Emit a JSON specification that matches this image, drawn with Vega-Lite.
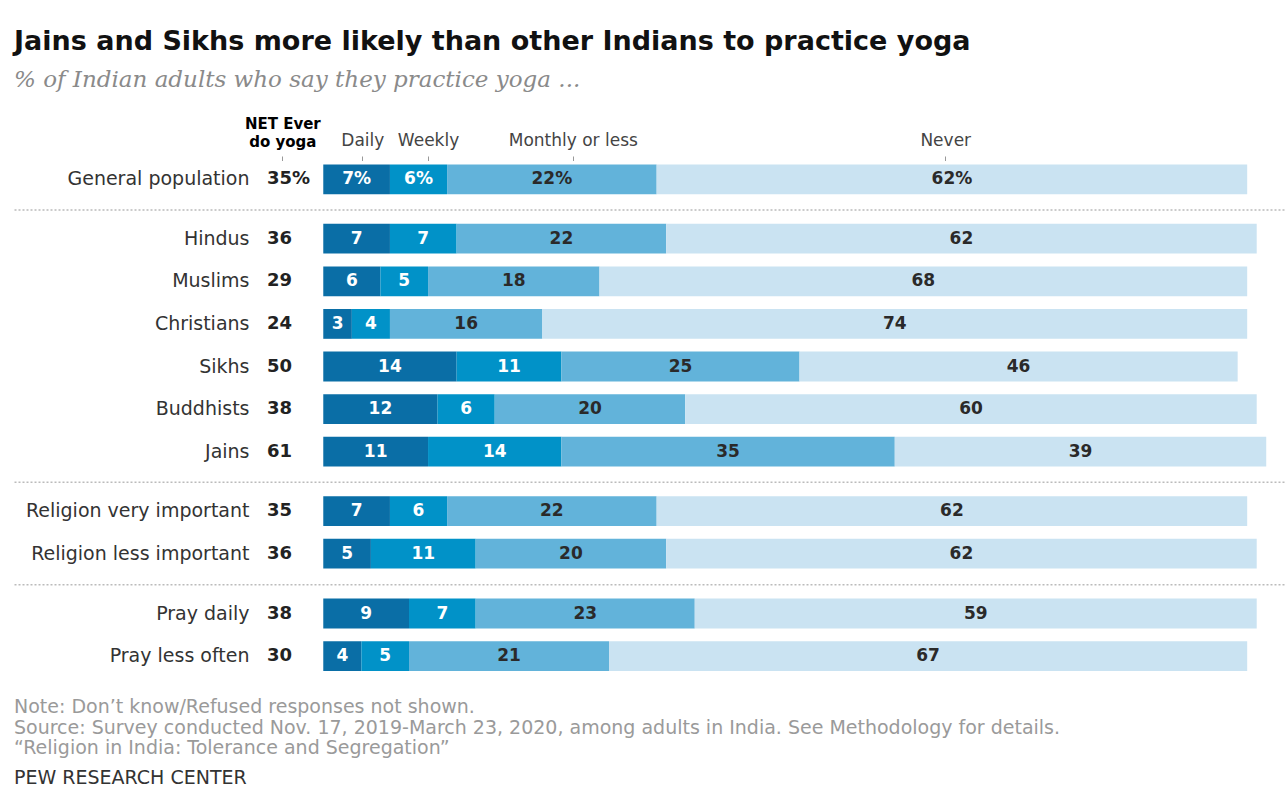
{
  "$schema": "https://vega.github.io/schema/vega-lite/v6.json",
  "background": "white",
  "padding": {"left": 14, "right": 0, "top": 28, "bottom": 0},
  "title": {
    "text": "Jains and Sikhs more likely than other Indians to practice yoga",
    "subtitle": "% of Indian adults who say they practice yoga ...",
    "anchor": "start",
    "font": "DejaVu Sans",
    "fontSize": 27,
    "fontWeight": "bold",
    "color": "#111111",
    "subtitleFont": "DejaVu Serif",
    "subtitleFontStyle": "italic",
    "subtitleFontSize": 23,
    "subtitleColor": "#8a8a8a",
    "subtitlePadding": 13,
    "offset": 20
  },
  "data": {
    "values": [
      {"g": 1, "row": "General population", "net": 35, "Daily": 7, "Weekly": 6, "Monthly or less": 22, "Never": 62},
      {"g": 2, "row": "Hindus", "net": 36, "Daily": 7, "Weekly": 7, "Monthly or less": 22, "Never": 62},
      {"g": 2, "row": "Muslims", "net": 29, "Daily": 6, "Weekly": 5, "Monthly or less": 18, "Never": 68},
      {"g": 2, "row": "Christians", "net": 24, "Daily": 3, "Weekly": 4, "Monthly or less": 16, "Never": 74},
      {"g": 2, "row": "Sikhs", "net": 50, "Daily": 14, "Weekly": 11, "Monthly or less": 25, "Never": 46},
      {"g": 2, "row": "Buddhists", "net": 38, "Daily": 12, "Weekly": 6, "Monthly or less": 20, "Never": 60},
      {"g": 2, "row": "Jains", "net": 61, "Daily": 11, "Weekly": 14, "Monthly or less": 35, "Never": 39},
      {"g": 3, "row": "Religion very important", "net": 35, "Daily": 7, "Weekly": 6, "Monthly or less": 22, "Never": 62},
      {"g": 3, "row": "Religion less important", "net": 36, "Daily": 5, "Weekly": 11, "Monthly or less": 20, "Never": 62},
      {"g": 4, "row": "Pray daily", "net": 38, "Daily": 9, "Weekly": 7, "Monthly or less": 23, "Never": 59},
      {"g": 4, "row": "Pray less often", "net": 30, "Daily": 4, "Weekly": 5, "Monthly or less": 21, "Never": 67}
    ]
  },
  "transform": [
    {"fold": ["Daily", "Weekly", "Monthly or less", "Never"], "as": ["resp", "pct"]},
    {"window": [{"op": "row_number", "as": "k"}], "groupby": ["row"]}
  ],
  "bounds": "flush",
  "spacing": 16.4,
  "vconcat": [
    {
      "width": 1271,
      "height": 42.6,
      "transform": [
        {"filter": "datum.g == 1"},
        {"calculate": "datum.pct + '%'", "as": "lab"},
        {"calculate": "datum.net + '%'", "as": "netlab"}
      ],
      "encoding": {
        "y": {"field": "row", "type": "nominal", "sort": null,
          "scale": {"paddingInner": 0.3, "paddingOuter": 0.15},
          "axis": {"orient": "left", "offset": -235, "ticks": false, "domain": false, "labelPadding": 0, "title": null, "labelFont": "DejaVu Sans", "labelFontSize": 19, "labelColor": "#333333", "labelLimit": 400}}
      },
      "layer": [
        {
          "mark": {"type": "bar"},
          "encoding": {
            "x": {"field": "pct", "type": "quantitative", "stack": "zero",
              "scale": {"domain": [-32.47, 100.97], "nice": false, "zero": false},
              "axis": {"orient": "top", "values": [-4.3, 4.1, 11, 26.2, 65.3],
                "labelExpr": "datum.value < 0 ? ['NET Ever', 'do yoga'] : datum.value < 8 ? ['', 'Daily'] : datum.value < 20 ? ['', 'Weekly'] : datum.value < 40 ? ['', 'Monthly or less'] : ['', 'Never']",
                "domain": false, "grid": false, "ticks": true, "tickSize": 4.5, "tickColor": "#999999", "tickWidth": 1,
                "offset": -2.5, "labelPadding": 25, "labelBaseline": "bottom", "labelFont": "DejaVu Sans",
                "labelFontSize": {"condition": {"test": "datum.value < 0", "value": 15}, "value": 17},
                "labelColor": {"condition": {"test": "datum.value < 0", "value": "#000000"}, "value": "#444444"},
                "labelFontWeight": {"condition": {"test": "datum.value < 0", "value": "bold"}, "value": "normal"},
                "labelLineHeight": 18, "labelFlush": false, "labelOverlap": false, "labelLimit": 300, "title": null}},
            "color": {"field": "resp", "type": "nominal", "sort": ["Daily", "Weekly", "Monthly or less", "Never"],
              "scale": {"domain": ["Daily", "Weekly", "Monthly or less", "Never"], "range": ["#0a6ea6", "#0192c8", "#62b3da", "#cae3f2"]}, "legend": null},
            "order": {"field": "k", "type": "quantitative"}
          }
        },
        {
          "mark": {"type": "text", "font": "DejaVu Sans", "fontSize": 17, "fontWeight": "bold", "baseline": "middle", "align": "center"},
          "encoding": {
            "x": {"field": "pct", "type": "quantitative", "stack": "zero", "bandPosition": 0.5},
            "text": {"field": "lab"},
            "color": {"field": "resp", "type": "nominal", "sort": ["Daily", "Weekly", "Monthly or less", "Never"],
              "scale": {"domain": ["Daily", "Weekly", "Monthly or less", "Never"], "range": ["#ffffff", "#ffffff", "#2a2a2a", "#2a2a2a"]}, "legend": null},
            "order": {"field": "k", "type": "quantitative"}
          }
        },
        {
          "transform": [{"filter": "datum.resp == 'Daily'"}],
          "mark": {"type": "text", "font": "DejaVu Sans", "fontSize": 18, "fontWeight": "bold", "baseline": "middle", "align": "left", "color": "#222222"},
          "encoding": {"x": {"datum": -5.9}, "text": {"field": "netlab"}}
        }
      ],
      "resolve": {"scale": {"color": "independent"}}
    },
    {
      "width": 1271,
      "height": 255.6,
      "transform": [{"filter": "datum.g == 2"}],
      "encoding": {
        "y": {"field": "row", "type": "nominal", "sort": null,
          "scale": {"paddingInner": 0.3, "paddingOuter": 0.15},
          "axis": {"orient": "left", "offset": -235, "ticks": false, "domain": false, "labelPadding": 0, "title": null, "labelFont": "DejaVu Sans", "labelFontSize": 19, "labelColor": "#333333", "labelLimit": 400}}
      },
      "layer": [
        {
          "mark": {"type": "bar"},
          "encoding": {
            "x": {"field": "pct", "type": "quantitative", "stack": "zero",
              "scale": {"domain": [-32.47, 100.97], "nice": false, "zero": false},
              "axis": {"orient": "top", "offset": 8, "domain": true, "domainColor": "#bbbbbb", "domainDash": [2, 2], "domainWidth": 1.5, "ticks": false, "labels": false, "grid": false, "title": null}},
            "color": {"field": "resp", "type": "nominal", "sort": ["Daily", "Weekly", "Monthly or less", "Never"],
              "scale": {"domain": ["Daily", "Weekly", "Monthly or less", "Never"], "range": ["#0a6ea6", "#0192c8", "#62b3da", "#cae3f2"]}, "legend": null},
            "order": {"field": "k", "type": "quantitative"}
          }
        },
        {
          "mark": {"type": "text", "font": "DejaVu Sans", "fontSize": 17, "fontWeight": "bold", "baseline": "middle", "align": "center"},
          "encoding": {
            "x": {"field": "pct", "type": "quantitative", "stack": "zero", "bandPosition": 0.5},
            "text": {"field": "pct"},
            "color": {"field": "resp", "type": "nominal", "sort": ["Daily", "Weekly", "Monthly or less", "Never"],
              "scale": {"domain": ["Daily", "Weekly", "Monthly or less", "Never"], "range": ["#ffffff", "#ffffff", "#2a2a2a", "#2a2a2a"]}, "legend": null},
            "order": {"field": "k", "type": "quantitative"}
          }
        },
        {
          "transform": [{"filter": "datum.resp == 'Daily'"}],
          "mark": {"type": "text", "font": "DejaVu Sans", "fontSize": 18, "fontWeight": "bold", "baseline": "middle", "align": "left", "color": "#222222"},
          "encoding": {"x": {"datum": -5.9}, "text": {"field": "net"}}
        }
      ],
      "resolve": {"scale": {"color": "independent"}}
    },
    {
      "width": 1271,
      "height": 85.2,
      "transform": [{"filter": "datum.g == 3"}],
      "encoding": {
        "y": {"field": "row", "type": "nominal", "sort": null,
          "scale": {"paddingInner": 0.3, "paddingOuter": 0.15},
          "axis": {"orient": "left", "offset": -235, "ticks": false, "domain": false, "labelPadding": 0, "title": null, "labelFont": "DejaVu Sans", "labelFontSize": 19, "labelColor": "#333333", "labelLimit": 400}}
      },
      "layer": [
        {
          "mark": {"type": "bar"},
          "encoding": {
            "x": {"field": "pct", "type": "quantitative", "stack": "zero",
              "scale": {"domain": [-32.47, 100.97], "nice": false, "zero": false},
              "axis": {"orient": "top", "offset": 8, "domain": true, "domainColor": "#bbbbbb", "domainDash": [2, 2], "domainWidth": 1.5, "ticks": false, "labels": false, "grid": false, "title": null}},
            "color": {"field": "resp", "type": "nominal", "sort": ["Daily", "Weekly", "Monthly or less", "Never"],
              "scale": {"domain": ["Daily", "Weekly", "Monthly or less", "Never"], "range": ["#0a6ea6", "#0192c8", "#62b3da", "#cae3f2"]}, "legend": null},
            "order": {"field": "k", "type": "quantitative"}
          }
        },
        {
          "mark": {"type": "text", "font": "DejaVu Sans", "fontSize": 17, "fontWeight": "bold", "baseline": "middle", "align": "center"},
          "encoding": {
            "x": {"field": "pct", "type": "quantitative", "stack": "zero", "bandPosition": 0.5},
            "text": {"field": "pct"},
            "color": {"field": "resp", "type": "nominal", "sort": ["Daily", "Weekly", "Monthly or less", "Never"],
              "scale": {"domain": ["Daily", "Weekly", "Monthly or less", "Never"], "range": ["#ffffff", "#ffffff", "#2a2a2a", "#2a2a2a"]}, "legend": null},
            "order": {"field": "k", "type": "quantitative"}
          }
        },
        {
          "transform": [{"filter": "datum.resp == 'Daily'"}],
          "mark": {"type": "text", "font": "DejaVu Sans", "fontSize": 18, "fontWeight": "bold", "baseline": "middle", "align": "left", "color": "#222222"},
          "encoding": {"x": {"datum": -5.9}, "text": {"field": "net"}}
        }
      ],
      "resolve": {"scale": {"color": "independent"}}
    },
    {
      "width": 1271,
      "height": 85.2,
      "title": {
        "text": ["Note: Don’t know/Refused responses not shown.", "Source: Survey conducted Nov. 17, 2019-March 23, 2020, among adults in India. See Methodology for details.", "“Religion in India: Tolerance and Segregation”"],
        "subtitle": "PEW RESEARCH CENTER",
        "orient": "bottom",
        "anchor": "start",
        "frame": "group",
        "offset": 21,
        "font": "DejaVu Sans",
        "fontSize": 19,
        "fontWeight": "normal",
        "color": "#9a9a9a",
        "lineHeight": 20.5,
        "subtitleFont": "DejaVu Sans",
        "subtitleFontSize": 19,
        "subtitleColor": "#333333",
        "subtitlePadding": 11
      },
      "transform": [{"filter": "datum.g == 4"}],
      "encoding": {
        "y": {"field": "row", "type": "nominal", "sort": null,
          "scale": {"paddingInner": 0.3, "paddingOuter": 0.15},
          "axis": {"orient": "left", "offset": -235, "ticks": false, "domain": false, "labelPadding": 0, "title": null, "labelFont": "DejaVu Sans", "labelFontSize": 19, "labelColor": "#333333", "labelLimit": 400}}
      },
      "layer": [
        {
          "mark": {"type": "bar"},
          "encoding": {
            "x": {"field": "pct", "type": "quantitative", "stack": "zero",
              "scale": {"domain": [-32.47, 100.97], "nice": false, "zero": false},
              "axis": {"orient": "top", "offset": 8, "domain": true, "domainColor": "#bbbbbb", "domainDash": [2, 2], "domainWidth": 1.5, "ticks": false, "labels": false, "grid": false, "title": null}},
            "color": {"field": "resp", "type": "nominal", "sort": ["Daily", "Weekly", "Monthly or less", "Never"],
              "scale": {"domain": ["Daily", "Weekly", "Monthly or less", "Never"], "range": ["#0a6ea6", "#0192c8", "#62b3da", "#cae3f2"]}, "legend": null},
            "order": {"field": "k", "type": "quantitative"}
          }
        },
        {
          "mark": {"type": "text", "font": "DejaVu Sans", "fontSize": 17, "fontWeight": "bold", "baseline": "middle", "align": "center"},
          "encoding": {
            "x": {"field": "pct", "type": "quantitative", "stack": "zero", "bandPosition": 0.5},
            "text": {"field": "pct"},
            "color": {"field": "resp", "type": "nominal", "sort": ["Daily", "Weekly", "Monthly or less", "Never"],
              "scale": {"domain": ["Daily", "Weekly", "Monthly or less", "Never"], "range": ["#ffffff", "#ffffff", "#2a2a2a", "#2a2a2a"]}, "legend": null},
            "order": {"field": "k", "type": "quantitative"}
          }
        },
        {
          "transform": [{"filter": "datum.resp == 'Daily'"}],
          "mark": {"type": "text", "font": "DejaVu Sans", "fontSize": 18, "fontWeight": "bold", "baseline": "middle", "align": "left", "color": "#222222"},
          "encoding": {"x": {"datum": -5.9}, "text": {"field": "net"}}
        }
      ],
      "resolve": {"scale": {"color": "independent"}}
    }
  ],
  "config": {"view": {"stroke": null}}
}
